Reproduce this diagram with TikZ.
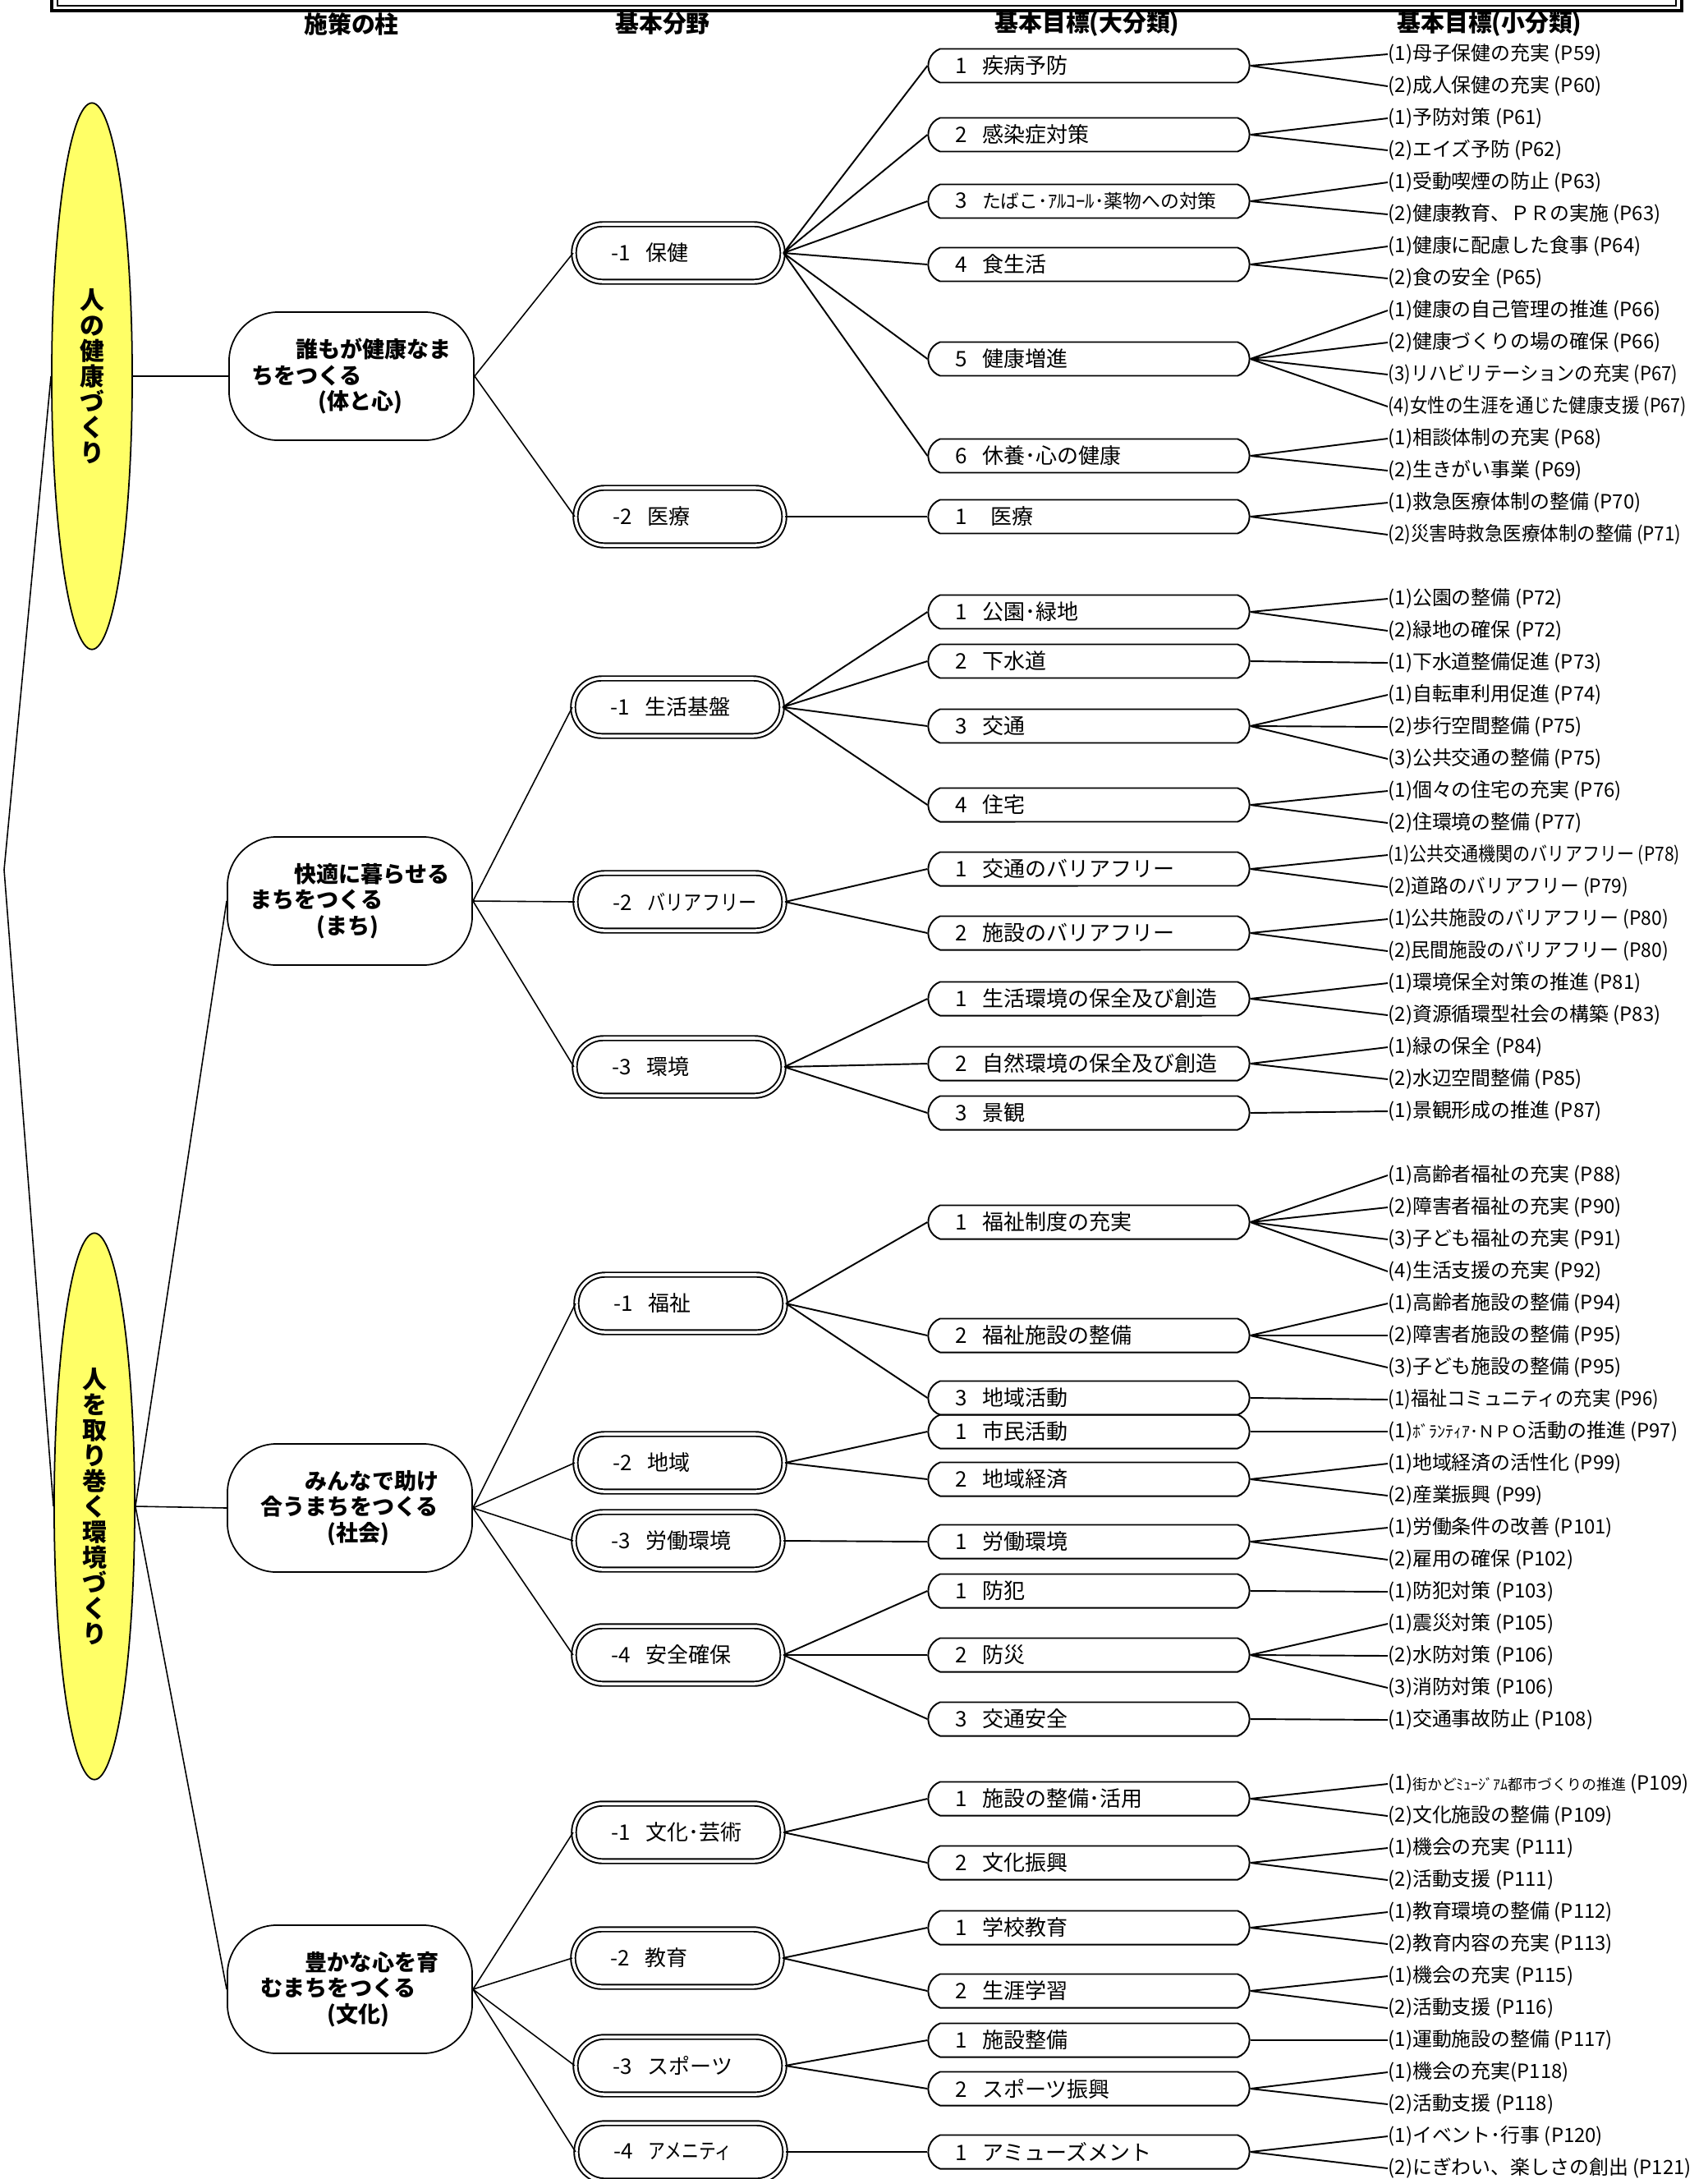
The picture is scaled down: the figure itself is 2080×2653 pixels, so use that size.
\documentclass[tikz,border=0pt]{standalone}
\usepackage{fontspec}
\setmainfont{Noto Sans CJK JP}
\usetikzlibrary{shapes.geometric, shapes.misc}
\definecolor{pillaryellow}{RGB}{255,255,102}
\newcommand{\numsep}{\kern0.7em}

\begin{document}
\begin{tikzpicture}[x=0.01cm, y=-0.01cm,
  pillar/.style={ellipse, draw, line width=0.5pt, fill=pillaryellow, minimum width=0.98cm, minimum height=6.65cm, inner sep=0pt, align=center, font=\bfseries\fontsize{8.5}{8.8}\selectfont},
  goal/.style={rectangle, rounded corners=0.6cm, draw, line width=0.5pt, minimum width=2.98cm, minimum height=1.56cm, inner sep=0pt, align=left, font=\bfseries\fontsize{7.7}{9}\selectfont},
  field/.style={rounded rectangle, draw, double, double distance=1pt, line width=0.55pt, minimum width=2.54cm, minimum height=0.70cm, inner sep=0pt, text width=1.62cm, align=left, font=\fontsize{7.4}{8}\selectfont},
  major/.style={rounded rectangle, rounded rectangle arc length=140, draw, line width=0.55pt, minimum width=3.91cm, minimum height=0.41cm, inner sep=0pt, text width=3.25cm, align=left, font=\fontsize{7.4}{8}\selectfont},
  minor/.style={anchor=west, inner sep=0pt, font=\fontsize{6.8}{8}\selectfont},
  head/.style={font=\bfseries\fontsize{8.2}{9}\selectfont},
  link/.style={line width=0.55pt},
  trunk/.style={line width=0.45pt}]

  \useasboundingbox (0,0) rectangle (2080,2653);

  \draw[line width=0.9pt] (63,-10) -- (63,13) -- (2048,13) -- (2048,-10);
  \draw[line width=0.5pt] (70,-10) -- (70,7) -- (2041,7) -- (2041,-10);

  \node[head] (h1) at (428,29) {施策の柱};
  \node[head] (h2) at (807,29) {基本分野};
  \node[head] (h3) at (1324,29) {基本目標(大分類)};
  \node[head] (h4) at (1814,29) {基本目標(小分類)};

  \node[pillar] (E1) at (112,458) {人\\の\\健\\康\\づ\\く\\り};
  \node[pillar] (E2) at (115,1834) {人\\を\\取\\り\\巻\\く\\環\\境\\づ\\く\\り};
  \coordinate (V) at (5,1059);

  \node[goal] (M1) at (428,458) {\hspace*{2em}誰もが健康なま\\ちをつくる\\\hspace*{3em}(体と心)};
  \node[goal] (M2) at (426,1097) {\hspace*{2em}快適に暮らせる\\まちをつくる\\\hspace*{3em}(まち)};
  \node[goal] (M3) at (426,1836) {\hspace*{2em}みんなで助け\\合うまちをつくる\\\hspace*{3em}(社会)};
  \node[goal] (M4) at (426,2422) {\hspace*{2em}豊かな心を育\\むまちをつくる\\\hspace*{3em}(文化)};

  \node[field] (A1) at (826,308) {-1\numsep 保健};
  \node[field] (A2) at (828,629) {-2\numsep 医療};
  \node[field] (B1) at (825,861) {-1\numsep 生活基盤};
  \node[field] (B2) at (828,1098) {\mbox{-2\numsep \scalebox{0.85}[1]{バリアフリー}}};
  \node[field] (B3) at (827,1299) {-3\numsep 環境};
  \node[field] (C1) at (829,1587) {-1\numsep 福祉};
  \node[field] (C2) at (828,1781) {-2\numsep 地域};
  \node[field] (C3) at (826,1876) {-3\numsep 労働環境};
  \node[field] (C4) at (826,2015) {-4\numsep 安全確保};
  \node[field] (D1) at (826,2231) {-1\numsep 文化･芸術};
  \node[field] (D2) at (825,2384) {-2\numsep 教育};
  \node[field] (D3) at (828,2515) {-3\numsep スポーツ};
  \node[field] (D4) at (829,2620) {\mbox{-4\numsep \scalebox{0.8}[1]{アメニティ}}};

  \node[major] (a11) at (1326,80) {1\numsep 疾病予防};
  \node[major] (a12) at (1326,164) {2\numsep 感染症対策};
  \node[major] (a13) at (1326,245) {3\numsep {\fontsize{6.5}{8}\selectfont たばこ･ｱﾙｺｰﾙ･薬物への対策}};
  \node[major] (a14) at (1326,322) {4\numsep 食生活};
  \node[major] (a15) at (1326,437) {5\numsep 健康増進};
  \node[major] (a16) at (1326,555) {6\numsep 休養･心の健康};
  \node[major] (a21) at (1326,629) {1\kern1.1em 医療};
  \node[major] (b11) at (1326,745) {1\numsep 公園･緑地};
  \node[major] (b12) at (1326,805) {2\numsep 下水道};
  \node[major] (b13) at (1326,884) {3\numsep 交通};
  \node[major] (b14) at (1326,980) {4\numsep 住宅};
  \node[major] (b21) at (1326,1058) {1\numsep 交通のバリアフリー};
  \node[major] (b22) at (1326,1136) {2\numsep 施設のバリアフリー};
  \node[major] (b31) at (1326,1216) {1\numsep 生活環境の保全及び創造};
  \node[major] (b32) at (1326,1295) {2\numsep 自然環境の保全及び創造};
  \node[major] (b33) at (1326,1355) {3\numsep 景観};
  \node[major] (c11) at (1326,1488) {1\numsep 福祉制度の充実};
  \node[major] (c12) at (1326,1626) {2\numsep 福祉施設の整備};
  \node[major] (c13) at (1326,1702) {3\numsep 地域活動};
  \node[major] (c21) at (1326,1743) {1\numsep 市民活動};
  \node[major] (c22) at (1326,1801) {2\numsep 地域経済};
  \node[major] (c31) at (1326,1877) {1\numsep 労働環境};
  \node[major] (c41) at (1326,1937) {1\numsep 防犯};
  \node[major] (c42) at (1326,2015) {2\numsep 防災};
  \node[major] (c43) at (1326,2093) {3\numsep 交通安全};
  \node[major] (d11) at (1326,2190) {1\numsep 施設の整備･活用};
  \node[major] (d12) at (1326,2268) {2\numsep 文化振興};
  \node[major] (d21) at (1326,2347) {1\numsep 学校教育};
  \node[major] (d22) at (1326,2424) {2\numsep 生涯学習};
  \node[major] (d31) at (1326,2484) {1\numsep 施設整備};
  \node[major] (d32) at (1326,2543) {2\numsep スポーツ振興};
  \node[major] (d41) at (1326,2620) {1\numsep アミューズメント};

  \node[minor] (r0) at (1690,66) {(1)母子保健の充実 (P59)};
  \node[minor] (r1) at (1690,105) {(2)成人保健の充実 (P60)};
  \node[minor] (r2) at (1690,144) {(1)予防対策 (P61)};
  \node[minor] (r3) at (1690,183) {(2)エイズ予防 (P62)};
  \node[minor] (r4) at (1690,222) {(1)受動喫煙の防止 (P63)};
  \node[minor] (r5) at (1690,261) {(2)健康教育、ＰＲの実施 (P63)};
  \node[minor] (r6) at (1690,300) {(1)健康に配慮した食事 (P64)};
  \node[minor] (r7) at (1690,339) {(2)食の安全 (P65)};
  \node[minor] (r8) at (1690,378) {(1)健康の自己管理の推進 (P66)};
  \node[minor] (r9) at (1690,417) {(2)健康づくりの場の確保 (P66)};
  \node[minor] (r10) at (1690,456) {\scalebox{0.93}[1]{(3)リハビリテーションの充実 (P67)}};
  \node[minor] (r11) at (1690,495) {\scalebox{0.9}[1]{(4)女性の生涯を通じた健康支援 (P67)}};
  \node[minor] (r12) at (1690,534) {(1)相談体制の充実 (P68)};
  \node[minor] (r13) at (1690,573) {(2)生きがい事業 (P69)};
  \node[minor] (r14) at (1690,612) {(1)救急医療体制の整備 (P70)};
  \node[minor] (r15) at (1690,651) {\scalebox{0.94}[1]{(2)災害時救急医療体制の整備 (P71)}};
  \node[minor] (r17) at (1690,729) {(1)公園の整備 (P72)};
  \node[minor] (r18) at (1690,768) {(2)緑地の確保 (P72)};
  \node[minor] (r19) at (1690,807) {(1)下水道整備促進 (P73)};
  \node[minor] (r20) at (1690,846) {(1)自転車利用促進 (P74)};
  \node[minor] (r21) at (1690,885) {(2)歩行空間整備 (P75)};
  \node[minor] (r22) at (1690,924) {(3)公共交通の整備 (P75)};
  \node[minor] (r23) at (1690,963) {(1)個々の住宅の充実 (P76)};
  \node[minor] (r24) at (1690,1002) {(2)住環境の整備 (P77)};
  \node[minor] (r25) at (1690,1041) {\scalebox{0.88}[1]{(1)公共交通機関のバリアフリー (P78)}};
  \node[minor] (r26) at (1690,1080) {\scalebox{0.95}[1]{(2)道路のバリアフリー (P79)}};
  \node[minor] (r27) at (1690,1119) {\scalebox{0.96}[1]{(1)公共施設のバリアフリー (P80)}};
  \node[minor] (r28) at (1690,1158) {\scalebox{0.96}[1]{(2)民間施設のバリアフリー (P80)}};
  \node[minor] (r29) at (1690,1197) {(1)環境保全対策の推進 (P81)};
  \node[minor] (r30) at (1690,1236) {(2)資源循環型社会の構築 (P83)};
  \node[minor] (r31) at (1690,1275) {(1)緑の保全 (P84)};
  \node[minor] (r32) at (1690,1314) {(2)水辺空間整備 (P85)};
  \node[minor] (r33) at (1690,1353) {(1)景観形成の推進 (P87)};
  \node[minor] (r35) at (1690,1431) {(1)高齢者福祉の充実 (P88)};
  \node[minor] (r36) at (1690,1470) {(2)障害者福祉の充実 (P90)};
  \node[minor] (r37) at (1690,1509) {(3)子ども福祉の充実 (P91)};
  \node[minor] (r38) at (1690,1548) {(4)生活支援の充実 (P92)};
  \node[minor] (r39) at (1690,1587) {(1)高齢者施設の整備 (P94)};
  \node[minor] (r40) at (1690,1626) {(2)障害者施設の整備 (P95)};
  \node[minor] (r41) at (1690,1665) {(3)子ども施設の整備 (P95)};
  \node[minor] (r42) at (1690,1704) {\scalebox{0.93}[1]{(1)福祉コミュニティの充実 (P96)}};
  \node[minor] (r43) at (1690,1743) {(1){\fontsize{5.7}{7}\selectfont ﾎﾞﾗﾝﾃｨｱ･ＮＰＯ}活動の推進 (P97)};
  \node[minor] (r44) at (1690,1782) {(1)地域経済の活性化 (P99)};
  \node[minor] (r45) at (1690,1821) {(2)産業振興 (P99)};
  \node[minor] (r46) at (1690,1860) {(1)労働条件の改善 (P101)};
  \node[minor] (r47) at (1690,1899) {(2)雇用の確保 (P102)};
  \node[minor] (r48) at (1690,1938) {(1)防犯対策 (P103)};
  \node[minor] (r49) at (1690,1977) {(1)震災対策 (P105)};
  \node[minor] (r50) at (1690,2016) {(2)水防対策 (P106)};
  \node[minor] (r51) at (1690,2055) {(3)消防対策 (P106)};
  \node[minor] (r52) at (1690,2094) {(1)交通事故防止 (P108)};
  \node[minor] (r54) at (1690,2172) {(1){\fontsize{5.1}{7}\selectfont 街かどﾐｭｰｼﾞｱﾑ都市づくりの推進} (P109)};
  \node[minor] (r55) at (1690,2211) {(2)文化施設の整備 (P109)};
  \node[minor] (r56) at (1690,2250) {(1)機会の充実 (P111)};
  \node[minor] (r57) at (1690,2289) {(2)活動支援 (P111)};
  \node[minor] (r58) at (1690,2328) {(1)教育環境の整備 (P112)};
  \node[minor] (r59) at (1690,2367) {(2)教育内容の充実 (P113)};
  \node[minor] (r60) at (1690,2406) {(1)機会の充実 (P115)};
  \node[minor] (r61) at (1690,2445) {(2)活動支援 (P116)};
  \node[minor] (r62) at (1690,2484) {(1)運動施設の整備 (P117)};
  \node[minor] (r63) at (1690,2523) {(1)機会の充実(P118)};
  \node[minor] (r64) at (1690,2562) {(2)活動支援 (P118)};
  \node[minor] (r65) at (1690,2601) {(1)イベント･行事 (P120)};
  \node[minor] (r66) at (1690,2640) {(2)にぎわい、楽しさの創出 (P121)};

  \draw[trunk] (E1.west) -- (V) -- (E2.west);
  \draw[trunk] (E1.east) -- (M1.west);
  \draw[trunk] (E2.east) -- (M2.west) (E2.east) -- (M3.west) (E2.east) -- (M4.west);

  \draw[trunk] (M1.east) -- (A1.west) (M1.east) -- (A2.west);
  \draw[trunk] (M2.east) -- (B1.west) (M2.east) -- (B2.west) (M2.east) -- (B3.west);
  \draw[trunk] (M3.east) -- (C1.west) (M3.east) -- (C2.west) (M3.east) -- (C3.west) (M3.east) -- (C4.west);
  \draw[trunk] (M4.east) -- (D1.west) (M4.east) -- (D2.west) (M4.east) -- (D3.west) (M4.east) -- (D4.west);

  \draw[link] (A1.east) -- (a11.west) (A1.east) -- (a12.west) (A1.east) -- (a13.west)
              (A1.east) -- (a14.west) (A1.east) -- (a15.west) (A1.east) -- (a16.west);
  \draw[link] (A2.east) -- (a21.west);
  \draw[link] (B1.east) -- (b11.west) (B1.east) -- (b12.west) (B1.east) -- (b13.west) (B1.east) -- (b14.west);
  \draw[link] (B2.east) -- (b21.west) (B2.east) -- (b22.west);
  \draw[link] (B3.east) -- (b31.west) (B3.east) -- (b32.west) (B3.east) -- (b33.west);
  \draw[link] (C1.east) -- (c11.west) (C1.east) -- (c12.west) (C1.east) -- (c13.west);
  \draw[link] (C2.east) -- (c21.west) (C2.east) -- (c22.west);
  \draw[link] (C3.east) -- (c31.west);
  \draw[link] (C4.east) -- (c41.west) (C4.east) -- (c42.west) (C4.east) -- (c43.west);
  \draw[link] (D1.east) -- (d11.west) (D1.east) -- (d12.west);
  \draw[link] (D2.east) -- (d21.west) (D2.east) -- (d22.west);
  \draw[link] (D3.east) -- (d31.west) (D3.east) -- (d32.west);
  \draw[link] (D4.east) -- (d41.west);

  \draw[link] (a11.east) -- (r0.west) (a11.east) -- (r1.west);
  \draw[link] (a12.east) -- (r2.west) (a12.east) -- (r3.west);
  \draw[link] (a13.east) -- (r4.west) (a13.east) -- (r5.west);
  \draw[link] (a14.east) -- (r6.west) (a14.east) -- (r7.west);
  \draw[link] (a15.east) -- (r8.west) (a15.east) -- (r9.west) (a15.east) -- (r10.west) (a15.east) -- (r11.west);
  \draw[link] (a16.east) -- (r12.west) (a16.east) -- (r13.west);
  \draw[link] (a21.east) -- (r14.west) (a21.east) -- (r15.west);
  \draw[link] (b11.east) -- (r17.west) (b11.east) -- (r18.west);
  \draw[link] (b12.east) -- (r19.west);
  \draw[link] (b13.east) -- (r20.west) (b13.east) -- (r21.west) (b13.east) -- (r22.west);
  \draw[link] (b14.east) -- (r23.west) (b14.east) -- (r24.west);
  \draw[link] (b21.east) -- (r25.west) (b21.east) -- (r26.west);
  \draw[link] (b22.east) -- (r27.west) (b22.east) -- (r28.west);
  \draw[link] (b31.east) -- (r29.west) (b31.east) -- (r30.west);
  \draw[link] (b32.east) -- (r31.west) (b32.east) -- (r32.west);
  \draw[link] (b33.east) -- (r33.west);
  \draw[link] (c11.east) -- (r35.west) (c11.east) -- (r36.west) (c11.east) -- (r37.west) (c11.east) -- (r38.west);
  \draw[link] (c12.east) -- (r39.west) (c12.east) -- (r40.west) (c12.east) -- (r41.west);
  \draw[link] (c13.east) -- (r42.west);
  \draw[link] (c21.east) -- (r43.west);
  \draw[link] (c22.east) -- (r44.west) (c22.east) -- (r45.west);
  \draw[link] (c31.east) -- (r46.west) (c31.east) -- (r47.west);
  \draw[link] (c41.east) -- (r48.west);
  \draw[link] (c42.east) -- (r49.west) (c42.east) -- (r50.west) (c42.east) -- (r51.west);
  \draw[link] (c43.east) -- (r52.west);
  \draw[link] (d11.east) -- (r54.west) (d11.east) -- (r55.west);
  \draw[link] (d12.east) -- (r56.west) (d12.east) -- (r57.west);
  \draw[link] (d21.east) -- (r58.west) (d21.east) -- (r59.west);
  \draw[link] (d22.east) -- (r60.west) (d22.east) -- (r61.west);
  \draw[link] (d31.east) -- (r62.west);
  \draw[link] (d32.east) -- (r63.west) (d32.east) -- (r64.west);
  \draw[link] (d41.east) -- (r65.west) (d41.east) -- (r66.west);
\end{tikzpicture}
\end{document}
